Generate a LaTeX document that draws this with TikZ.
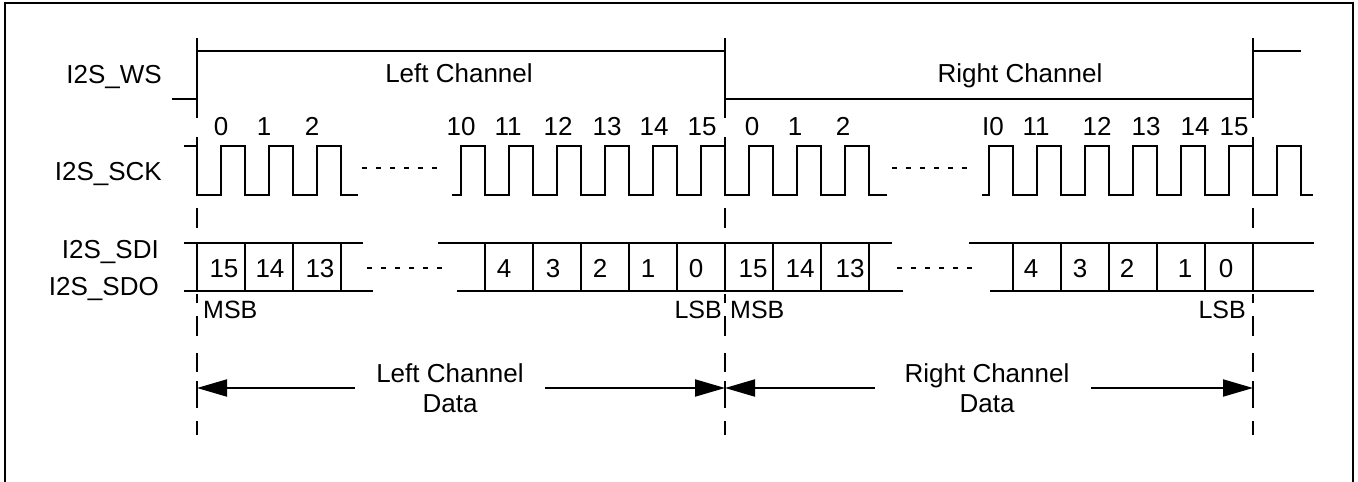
\documentclass[tikz,border=0pt]{standalone}
\usepackage{fontspec}
\setmainfont{Liberation Sans}
\usetikzlibrary{arrows.meta}
\begin{document}
\begin{tikzpicture}[x=1pt,y=-1pt,
  sig/.style={line width=2pt, line join=miter},
  dots/.style={line width=1.6pt, dash pattern=on 5pt off 9pt},
  lbl/.style={inner sep=0pt, font=\fontsize{26}{30}\selectfont},
  num/.style={inner sep=0pt, font=\fontsize{26}{30}\selectfont, anchor=base},
  bitlbl/.style={inner sep=0pt, font=\fontsize{25}{29}\selectfont},
  arr/.style={line width=2pt, -{Triangle[length=30pt,width=17pt]}}]
\useasboundingbox (0,0) rectangle (1358,482);
% frame
\draw[sig] (5,482) -- (5,3) -- (1353,3) -- (1353,482);
% signal names
\node[lbl, anchor=base east] (ws)  at (162,83)  {I2S\_WS};
\node[lbl, anchor=base east] (sck) at (162,180) {I2S\_SCK};
\node[lbl, anchor=base east] (sdi) at (159,258) {I2S\_SDI};
\node[lbl, anchor=base east] (sdo) at (159,295) {I2S\_SDO};
% WS
\draw[sig] (172,99) -- (197,99) -- (197,51) -- (725,51) -- (725,99) -- (1253,99) -- (1253,51) -- (1301,51);
\node[lbl, anchor=base] (wsl) at (459,82)  {Left Channel};
\node[lbl, anchor=base] (wsr) at (1020,82) {Right Channel};
% vertical marker lines
\foreach \x in {197,725,1253}{
  \foreach \a/\b in {38/118,137/195,208/228,243/291,294/303,316/336,353/372,381/408,421/435}
    \draw[sig] (\x,\a) -- (\x,\b);
}
% SCK group 1
\draw[sig] (184,146) -- (197,146) -- (197,195)
  \foreach \k in {0,1,2}{ -- ({221+48*\k},195) -- ({221+48*\k},146) -- ({245+48*\k},146) -- ({245+48*\k},195)} -- (358,195);
% SCK group 2
\draw[sig] (452,195)
  \foreach \k in {0,...,8}{ -- ({461+48*\k},195) -- ({461+48*\k},146) -- ({485+48*\k},146) -- ({485+48*\k},195)} -- (887,195);
% SCK group 3
\draw[sig] (982,195)
  \foreach \k in {0,...,6}{ -- ({989+48*\k},195) -- ({989+48*\k},146) -- ({1013+48*\k},146) -- ({1013+48*\k},195)} -- (1313,195);
% SCK dotted continuation
\draw[dots] (362,168) -- (443,168);
\draw[dots] (892,168) -- (970,168);
% clock numbers
\foreach \x/\t in {221/0,264/1,312/2,461/10,508/11,558/12,607/13,654/14,702/15,752/0,795/1,843/2,993/I0,1036/11,1097/12,1146/13,1195/14,1234/15}
  \node[num] (n\x) at (\x,135) {\t};
% data lanes
\draw[sig] (184,243) -- (363,243);
\draw[sig] (184,291) -- (373,291);
\foreach \x in {245,293,341} \draw[sig] (\x,243) -- (\x,291);
\draw[sig] (438,243) -- (892,243);
\draw[sig] (457,291) -- (903,291);
\foreach \x in {485,533,581,629,677,725,773,821,869} \draw[sig] (\x,243) -- (\x,291);
\draw[sig] (969,243) -- (1314,243);
\draw[sig] (990,291) -- (1314,291);
\foreach \x in {1013,1061,1109,1157,1205,1253} \draw[sig] (\x,243) -- (\x,291);
\draw[dots] (367,268) -- (445,268);
\draw[dots] (897,268) -- (978,268);
% bit numbers
\foreach \x/\t in {224/15,270/14,320/13,504/4,553/3,600/2,648/1,696/0,753/15,800/14,850/13,1031/4,1080/3,1127/2,1185/1,1226/0}
  \node[num] (d\x) at (\x,277) {\t};
% MSB / LSB
\node[bitlbl, anchor=base west] (msb1) at (203,318)  {MSB};
\node[bitlbl, anchor=base east] (lsb1) at (722,318)  {LSB};
\node[bitlbl, anchor=base west] (msb2) at (730,318)  {MSB};
\node[bitlbl, anchor=base east] (lsb2) at (1246,318) {LSB};
% channel data arrows
\node[lbl, anchor=base] (ldat1) at (450,382) {Left Channel};
\node[lbl, anchor=base] (ldat2) at (450,412) {Data};
\node[lbl, anchor=base] (rdat1) at (987,382) {Right Channel};
\node[lbl, anchor=base] (rdat2) at (987,412) {Data};
\coordinate (pL) at (197,388);
\coordinate (pM) at (725,388);
\coordinate (pR) at (1253,388);
\coordinate (a1) at (355,388);
\coordinate (a2) at (545,388);
\coordinate (a3) at (875,388);
\coordinate (a4) at (1091,388);
\draw[arr] (a1) -- (pL);
\draw[arr] (a2) -- (pM);
\draw[arr] (a3) -- (pM);
\draw[arr] (a4) -- (pR);
\end{tikzpicture}
\end{document}
